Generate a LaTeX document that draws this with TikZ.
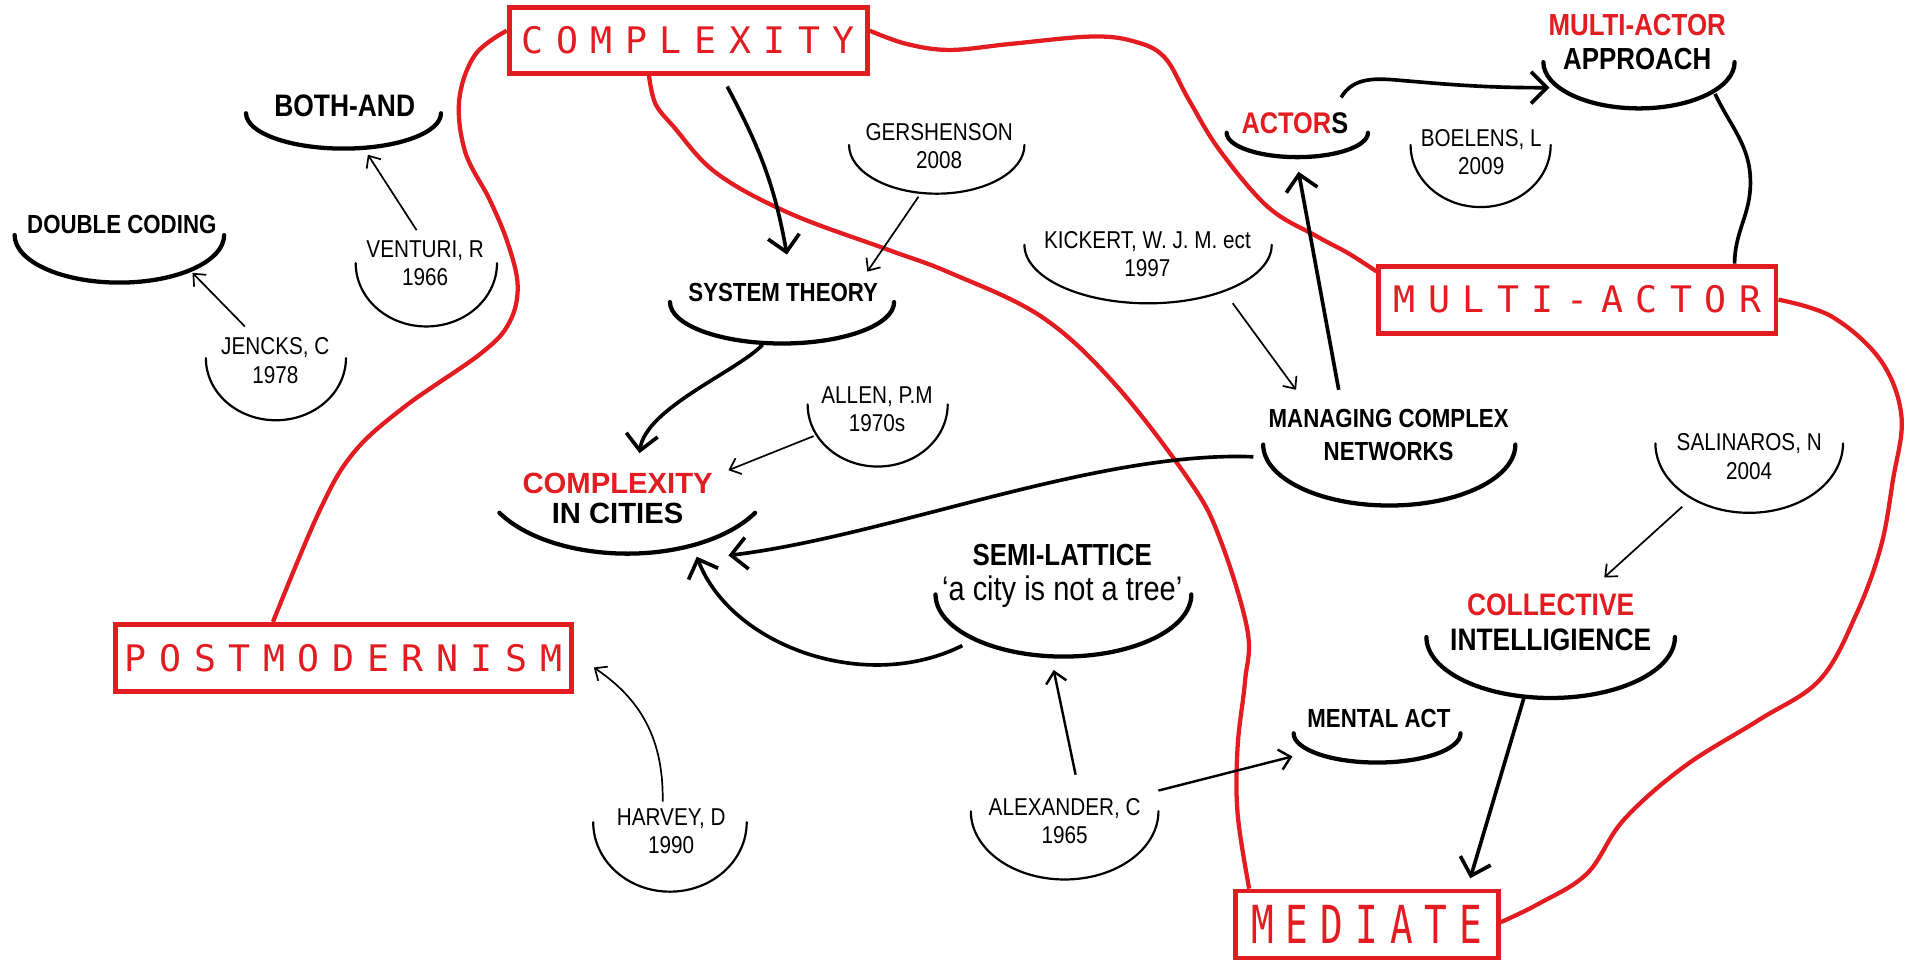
\documentclass[tikz,border=0pt]{standalone}
\usepackage{fontspec}
\setmainfont{Liberation Sans}[FakeStretch=0.85]
\newfontfamily\breitfont{Liberation Sans}
\newfontfamily\boxfont{DejaVu Sans Mono}
\newfontfamily\schmalboxfont{DejaVu Sans Mono}[FakeStretch=0.72]
\usetikzlibrary{arrows.meta,calc}
\begin{document}
\begin{tikzpicture}[x=1pt,y=-1pt,
    rotbox/.style={draw=rot, line width=4pt, text=rot, inner sep=0pt, font=\boxfont\fontsize{30}{30}\selectfont},
    konzept/.style={align=center, inner sep=0pt, font=\bfseries\fontsize{21.5}{26.5}\selectfont},
    autor/.style={align=center, inner sep=0pt, font=\fontsize{20}{23.4}\selectfont},
    bogen/.style={line width=3.5pt, line cap=round},
    duennbogen/.style={line width=1.8pt, line cap=round},
    pfeil/.style={line width=3pt, -{Straight Barb[length=13pt,width=26pt]}},
    mpfeil/.style={line width=2pt, -{Straight Barb[length=9pt,width=17pt]}},
    dpfeil/.style={line width=1.4pt, -{Straight Barb[length=8pt,width=14pt]}},
    rotlinie/.style={rot, line width=3.5pt}]

    % Farben
    \definecolor{rot}{RGB}{226,28,32}

    % Hintergrund
    \fill[white] (0,0) rectangle (1568,792);
    \useasboundingbox (0,0) rectangle (1568,792);

    % Rote Kaesten
    \node[rotbox, minimum width=294pt, minimum height=54pt] (cplx) at (565,33) {\addfontfeature{LetterSpace=34.5}COMPLEXITY};
    \node[rotbox, minimum width=326pt, minimum height=55pt] (mact) at (1295,246) {\addfontfeature{LetterSpace=34.5}MULTI-ACTOR};
    \node[rotbox, minimum width=375pt, minimum height=55pt] (post) at (282,540) {\addfontfeature{LetterSpace=34.5}POSTMODERNISM};
    \node[rotbox, minimum width=216pt, minimum height=55pt, font=\schmalboxfont\fontsize{43}{43}\selectfont] (medi) at (1122,759) {\addfontfeature{LetterSpace=23}MEDIATE};

    % Konzepte
    \node[konzept, font=\bfseries\fontsize{25.5}{30}\selectfont] (both) at (283,87) {BOTH-AND};
    \node[konzept] (dcod) at (100,184) {DOUBLE CODING};
    \node[konzept] (syst) at (643,240) {SYSTEM THEORY};
    \node[konzept, font=\breitfont\bfseries\fontsize{24}{25}\selectfont] (cic) at (507,409) {\textcolor{rot}{COMPLEXITY}\\IN CITIES};
    \node[konzept, font=\bfseries\fontsize{24.5}{28}\selectfont] (actr) at (1063,101) {\textcolor{rot}{ACTOR}S};
    \node[konzept, font=\bfseries\fontsize{25}{28}\selectfont] (appr) at (1344,34.5) {\textcolor{rot}{MULTI-ACTOR}\\APPROACH};
    \node[konzept] (mcn) at (1140,357) {MANAGING COMPLEX\\NETWORKS};
    \node[konzept, font=\bfseries\fontsize{25}{29}\selectfont] (semi) at (872,473) {SEMI-LATTICE\\{\mdseries\fontsize{28}{29}\selectfont ‘a city is not a tree’}};
    \node[konzept] (ment) at (1132,590) {MENTAL ACT};
    \node[konzept, font=\bfseries\fontsize{25.5}{29}\selectfont] (coll) at (1273,511) {\textcolor{rot}{COLLECTIVE}\\INTELLIGIENCE};

    % Autoren
    \node[autor] (jenc) at (226,296) {JENCKS, C\\1978};
    \node[autor] (vent) at (349,216) {VENTURI, R\\1966};
    \node[autor] (gers) at (771,120) {GERSHENSON\\2008};
    \node[autor] (alln) at (720,336) {ALLEN, P.M\\1970s};
    \node[autor] (kick) at (942,208.5) {KICKERT, W. J. M. ect\\1997};
    \node[autor] (boel) at (1216,125) {BOELENS, L\\2009};
    \node[autor] (sali) at (1436,375) {SALINAROS, N\\2004};
    \node[autor] (harv) at (551,682.5) {HARVEY, D\\1990};
    \node[autor] (alex) at (874,674) {ALEXANDER, C\\1965};

    % Boegen unter den Begriffen
    \draw[bogen] (202,93) arc[start angle=180, end angle=0, x radius=80, y radius=29];
    \draw[bogen] (12,193) arc[start angle=180, end angle=0, x radius=86, y radius=39];
    \draw[bogen] (550,248) arc[start angle=180, end angle=0, x radius=92, y radius=34];
    \draw[bogen] (410,421) arc[start angle=151, end angle=29, x radius=120, y radius=65];
    \draw[bogen] (1007,109) arc[start angle=180, end angle=0, x radius=58, y radius=20];
    \draw[bogen] (1267,51) arc[start angle=180, end angle=0, x radius=78.5, y radius=38];
    \draw[bogen] (1037,365) arc[start angle=180, end angle=0, x radius=103.5, y radius=50];
    \draw[bogen] (768,488) arc[start angle=180, end angle=0, x radius=105, y radius=51];
    \draw[bogen] (1062,602) arc[start angle=180, end angle=0, x radius=68.5, y radius=24];
    \draw[bogen] (1171,523) arc[start angle=180, end angle=0, x radius=102, y radius=50];

    % Boegen unter den Autoren
    \draw[duennbogen] (169,294) arc[start angle=180, end angle=0, x radius=57.5, y radius=51];
    \draw[duennbogen] (292,216) arc[start angle=180, end angle=0, x radius=58, y radius=52];
    \draw[duennbogen] (697,119) arc[start angle=180, end angle=0, x radius=72, y radius=40];
    \draw[duennbogen] (663,332) arc[start angle=180, end angle=0, x radius=57.5, y radius=51];
    \draw[duennbogen] (841,201) arc[start angle=180, end angle=0, x radius=101.5, y radius=48];
    \draw[duennbogen] (1158,119) arc[start angle=180, end angle=0, x radius=57.5, y radius=51];
    \draw[duennbogen] (1359,364) arc[start angle=180, end angle=0, x radius=77, y radius=57];
    \draw[duennbogen] (487,675) arc[start angle=180, end angle=0, x radius=63, y radius=57];
    \draw[duennbogen] (797,666) arc[start angle=180, end angle=0, x radius=77, y radius=56];

    % Rote Linien
    \draw[rotlinie] plot[smooth, tension=0.6] coordinates {(cplx.177) (390,45) (377,82) (382,125) (402,164) (417,200) (425,235) (418,265) (395,290) (332,334) (290,372) (262,420) (post.153)};
    \draw[rotlinie] plot[smooth, tension=0.6] coordinates {(cplx.3) (744,36) (780,41) (830,36) (896,30) (931,34) (956,47) (976,82) (1001,123) (1041,170) (1081,194) (1107,208) (mact.172)};
    \draw[rotlinie] plot[smooth, tension=0.6] coordinates {(cplx.-138) (538,85) (553,104) (588,142) (648,175) (729,205) (780,224) (855,260) (915,315) (976,394) (1001,441) (1024,517) (1022,560) (1016,613) (1016,668) (medi.163)};
    \draw[rotlinie] plot[smooth, tension=0.6] coordinates {(mact.east) (1504,260) (1544,296) (1561,342) (1554,394) (1544,449) (1524,504) (1494,558) (1444,591) (1383,629) (1333,673) (1303,717) (1263,742) (medi.1)};

    % Dicke Pfeile
    \draw[pfeil] ($(cplx.south)+(32,9)$) to[out=-62,in=100] ($(syst)+(3,-31)$);
    \draw[pfeil] ($(syst)+(-17,43)$) .. controls (605,305) and (530,335) .. ($(cic)+(18,-37)$);
    \draw[pfeil] ($(mcn)+(-111,18)$) .. controls (900,370) and (730,440) .. ($(cic)+(91,47)$);
    \draw[pfeil] ($(semi)+(-82,57)$) .. controls (710,570) and (600,530) .. ($(cic)+(65,48)$);
    \draw[pfeil] ($(mcn)+(-41,-37)$) -- ($(actr)+(3,40)$);
    \draw[pfeil] ($(actr)+(38,-21)$) to[out=60,in=175] (1150,66) to[out=-5,in=180] ($(appr)+(-72,37.5)$);
    \draw[pfeil] ($(coll)+(-22,62)$) -- ($(medi)+(85,-38)$);
    \draw[line width=3pt] ($(appr)+(64,42.5)$) to[out=-65,in=90] (1437,150) to[out=-90,in=90] ($(mact.north)+(129,0)$);

    % Duenne Pfeile
    \draw[mpfeil] ($(alex)+(9,-38)$) -- ($(semi)+(-7,77)$);
    \draw[mpfeil] ($(alex)+(77,-25)$) -- ($(ment)+(-71,31)$);
    \draw[dpfeil] ($(jenc)+(-25,-28)$) -- ($(dcod)+(58,40)$);
    \draw[dpfeil] ($(vent)+(-7,-27)$) -- ($(both)+(19,40)$);
    \draw[dpfeil] ($(gers)+(-17,41.5)$) -- ($(syst)+(69,-17)$);
    \draw[dpfeil] ($(alln)+(-52,22)$) -- ($(cic)+(91,-23)$);
    \draw[dpfeil] ($(kick)+(70,40.5)$) -- ($(mcn)+(-76,-37)$);
    \draw[dpfeil] ($(sali)+(-55,41)$) -- ($(coll)+(44,-37)$);
    \draw[dpfeil] ($(harv)+(-7,-24.5)$) .. controls (545,600) and (520,570) .. ($(post.east)+(16,8)$);

\end{tikzpicture}
\end{document}
